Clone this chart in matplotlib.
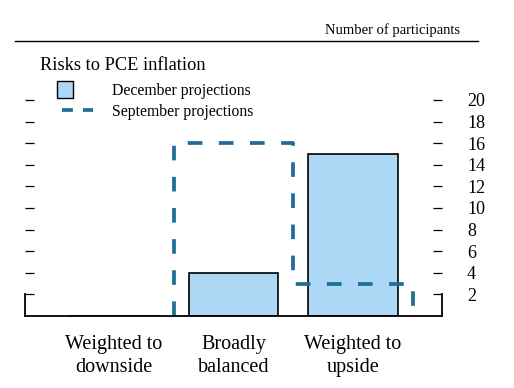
import numpy as np
import matplotlib
matplotlib.use("Agg")
import matplotlib.pyplot as plt
from matplotlib.lines import Line2D
from matplotlib.patches import Rectangle

# data
categories = ["Weighted to\ndownside", "Broadly\nbalanced", "Weighted to\nupside"]
december = [0, 4, 15]
september = [0, 16, 3]
yticks = [2, 4, 6, 8, 10, 12, 14, 16, 18, 20]

bar_color = "#acd8f6"
dash_color = "#1f6e96"
dash_style = (0, (3.9, 4.4))

plt.rcParams["font.family"] = ["Liberation Serif", "DejaVu Serif"]

W, H = 514, 388
fig = plt.figure(figsize=(W / 100, H / 100), dpi=100)
ax = fig.add_axes([25 / W, (H - 316) / H, (442 - 25) / W, 216 / H])

x = np.arange(len(categories))
ax.bar(x, december, width=0.75, color=bar_color, edgecolor="black", linewidth=1.2, zorder=2)

# september outline as a step line, skipping the leading zero bins
edges = np.append(x - 0.5, x[-1] + 0.5)
sep = np.array(september, dtype=float)
nz = int(np.argmax(sep > 0))
px = np.repeat(edges[nz:], 2)
py = np.concatenate([[0], np.repeat(sep[nz:], 2), [0]])
ax.plot(px, py, color=dash_color, linewidth=2.7, linestyle=dash_style, zorder=2.4,
        solid_capstyle="butt", dash_capstyle="butt")

ax.set_xlim(-0.745, 2.745)
ax.set_ylim(0, 20)

ax.spines["top"].set_visible(False)
for side in ["left", "right"]:
    ax.spines[side].set_bounds(0, 2)
for side in ["left", "right", "bottom"]:
    ax.spines[side].set_linewidth(1.3)
    ax.spines[side].set_zorder(3)

ax.set_yticks(yticks)
ax.set_yticklabels([str(t) for t in yticks])
ax.tick_params(axis="y", direction="in", length=6.5, width=0.9, left=True, right=True,
               labelleft=False, labelright=True, labelsize=13, pad=18)
ax.set_xticks(x)
ax.set_xticklabels(categories, fontsize=14.5, linespacing=1.3)
ax.tick_params(axis="x", length=0, pad=13.5)

# header
fig.text(460 / W, 1 - 34 / H, "Number of participants", ha="right", va="baseline", fontsize=10.5)
fig.add_artist(Line2D([15 / W, 478 / W], [1 - 41 / H, 1 - 41 / H], color="black", linewidth=1.0))
fig.text(40 / W, 1 - 70 / H, "Risks to PCE inflation", ha="left", va="baseline", fontsize=13.2)

# legend
fig.add_artist(Rectangle((57 / W, 1 - 98 / H), 16 / W, 17 / H, facecolor=bar_color,
                         edgecolor="black", linewidth=1.0, transform=fig.transFigure))
fig.add_artist(Line2D([62 / W, 93 / W], [1 - 110 / H, 1 - 110 / H], color=dash_color,
                      linewidth=2.7, linestyle=(0, (2.9, 2.7)), dash_capstyle="butt"))
fig.text(112 / W, 1 - 95 / H, "December projections", ha="left", va="baseline", fontsize=11.3)
fig.text(112 / W, 1 - 116 / H, "September projections", ha="left", va="baseline", fontsize=11.3)

fig.savefig("out.png", dpi=100)
